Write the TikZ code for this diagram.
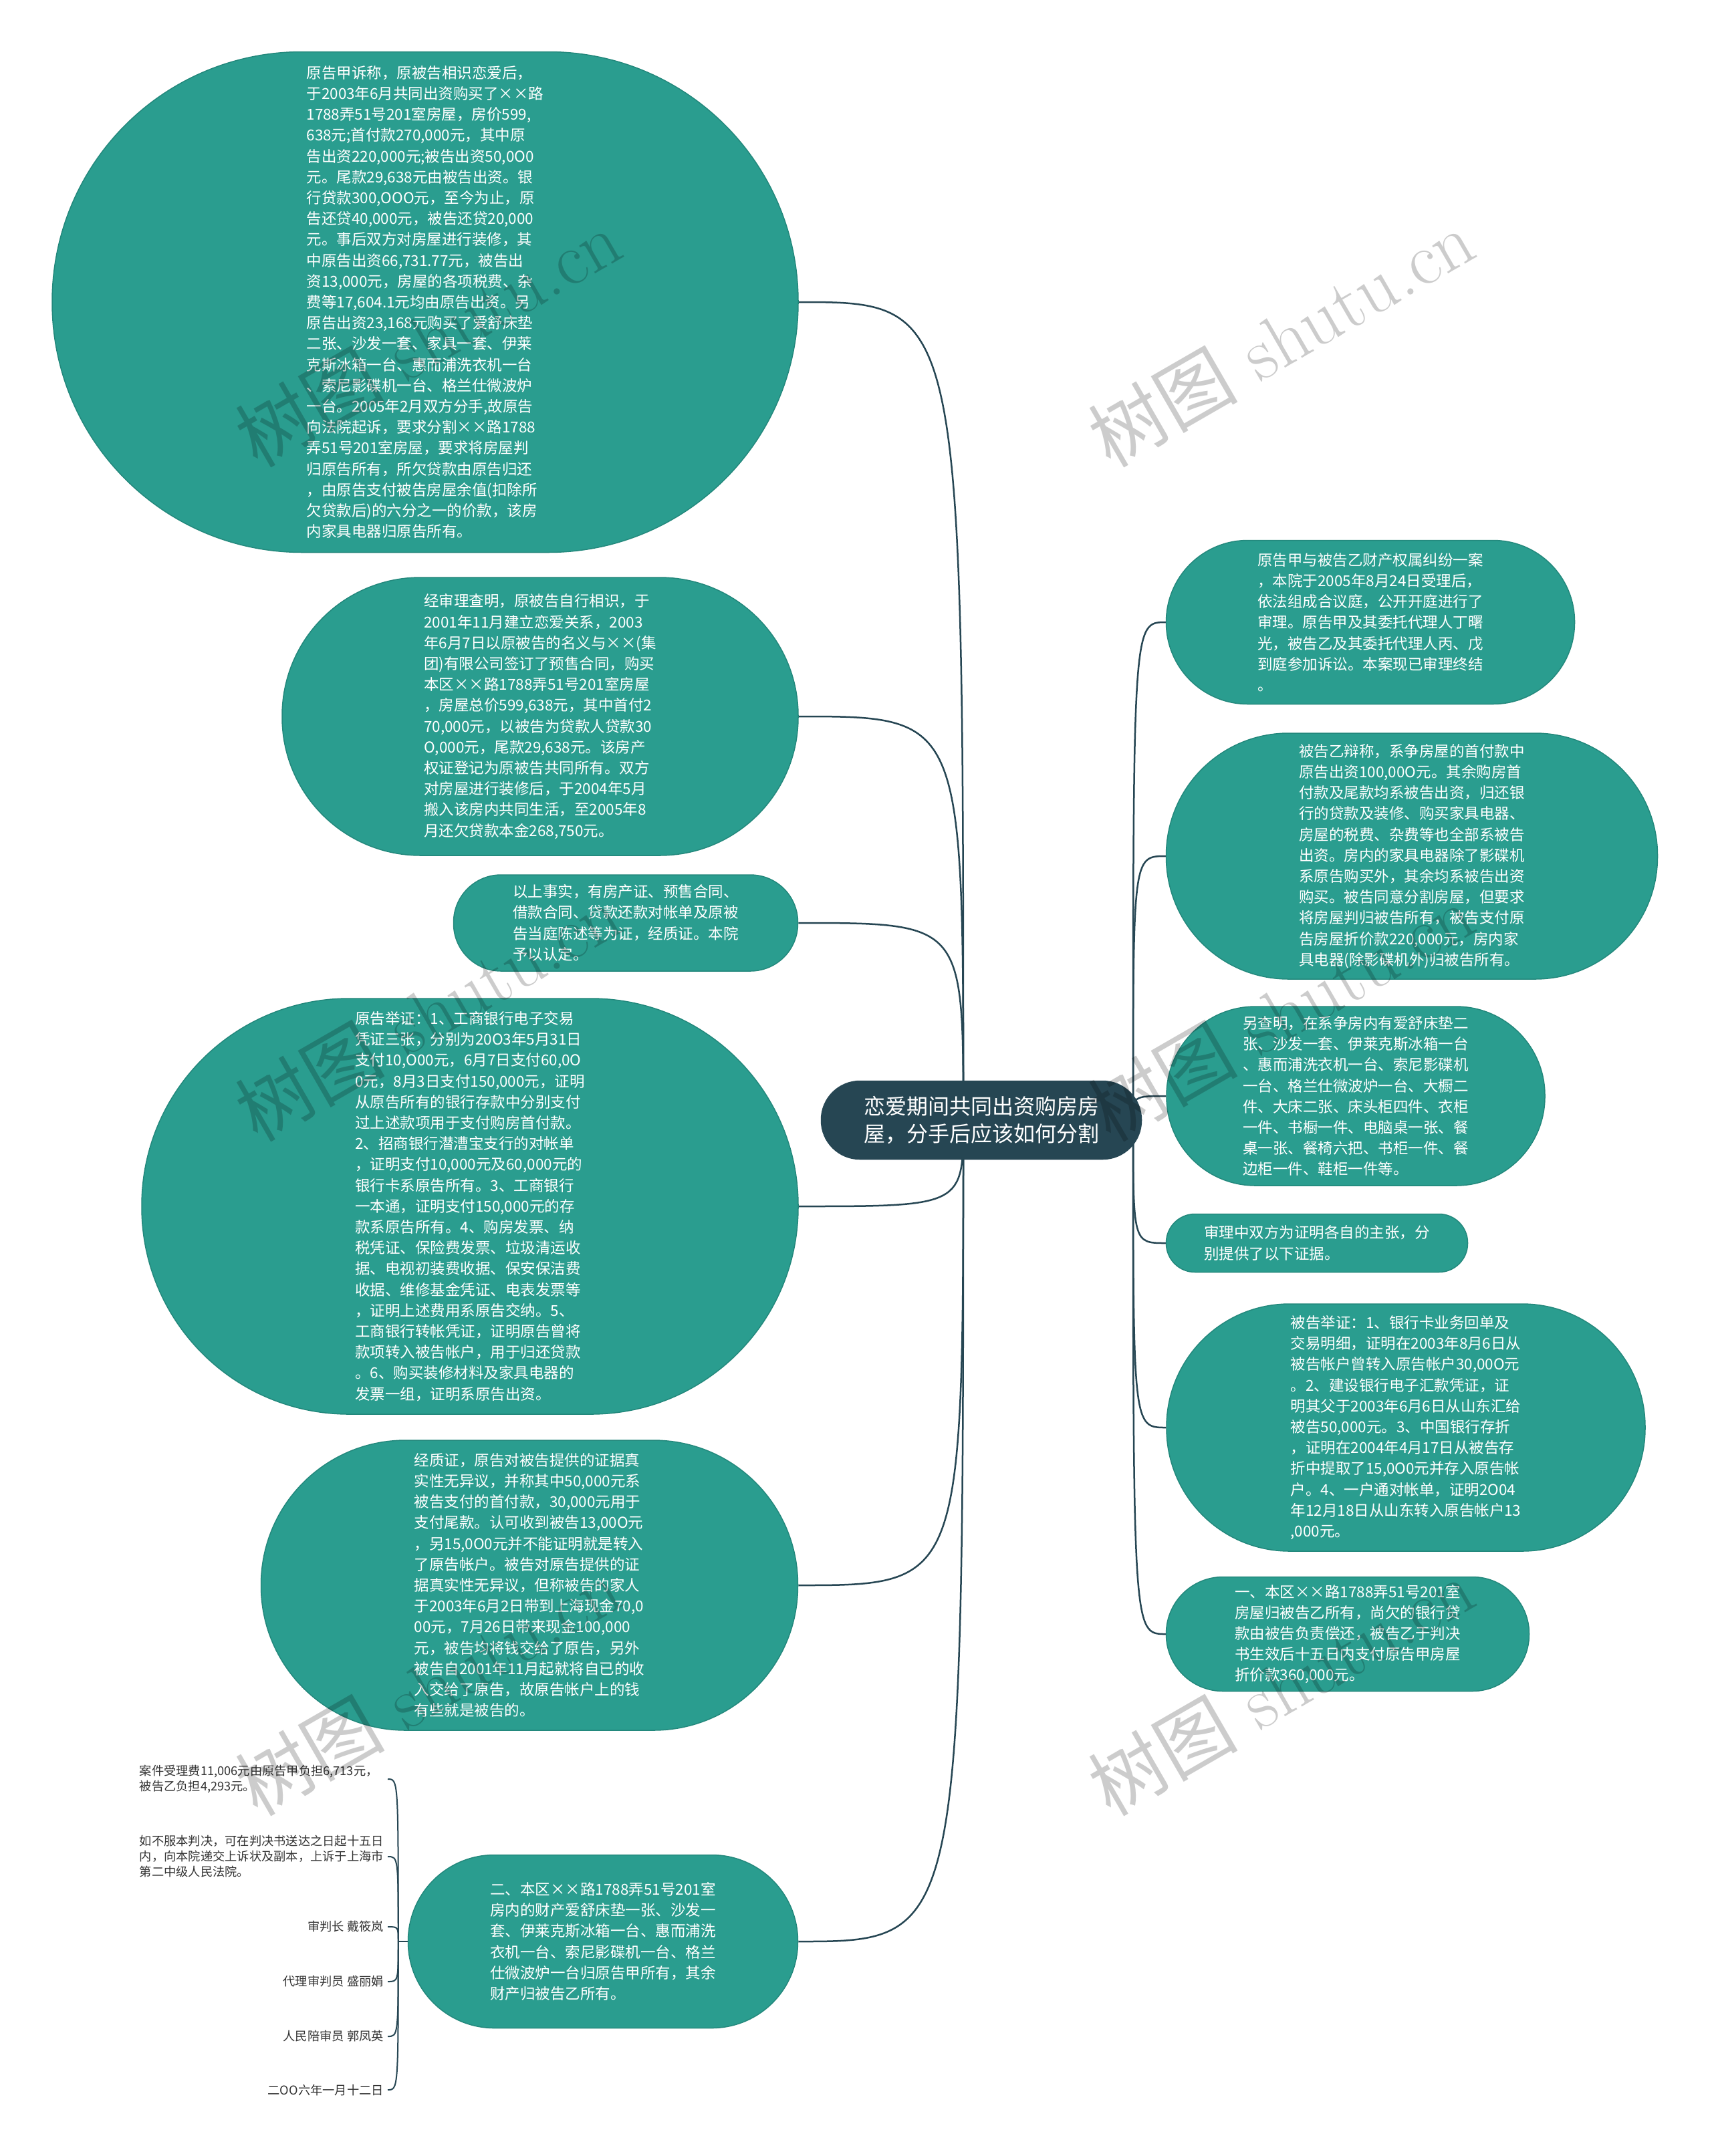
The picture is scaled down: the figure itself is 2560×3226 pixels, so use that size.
\documentclass[tikz,border=0pt]{standalone}
\usepackage{fontspec}
\newfontfamily\cjk{Noto Sans CJK SC}
\usetikzlibrary{backgrounds}
\definecolor{teal1}{HTML}{2A9D8F}
\definecolor{tealdark}{HTML}{23887C}
\definecolor{navy}{HTML}{264653}
\definecolor{leafc}{HTML}{333333}
\begin{document}
\begin{tikzpicture}[x=1pt,y=-1pt,
  box/.style={draw=tealdark, line width=1.5pt, fill=teal1, rectangle, inner sep=0pt},
  txt/.style={align=left, text=white, inner sep=0pt, font=\cjk\fontsize{22.5}{31.2}\selectfont},
  leaf/.style={align=left, text=leafc, inner xsep=6pt, inner ysep=0pt, font=\cjk\fontsize{18.25}{23}\selectfont, anchor=east},
  link/.style={draw=navy, line width=2.5pt},
  wm/.style={text=black, opacity=0.2, rotate=30, font=\fontsize{112}{112}\selectfont}
]
\useasboundingbox (0,0) rectangle (2560,3226);

% shapes
\node[box, minimum width=1116, minimum height=749, rounded corners=374] (A) at (636,452) {};
\node[box, minimum width=772, minimum height=416, rounded corners=207] (B) at (808,1072) {};
\node[box, minimum width=515, minimum height=144, rounded corners=71] (C) at (936,1381) {};
\node[box, minimum width=982, minimum height=622, rounded corners=310] (D) at (703,1805) {};
\node[box, minimum width=803, minimum height=434, rounded corners=216] (E) at (792,2372) {};
\node[box, minimum width=583, minimum height=259, rounded corners=129] (F) at (902,2905) {};
\node[box, draw=navy, fill=navy, minimum width=479, minimum height=117, rounded corners=58] (M) at (1468,1676) {};
\node[box, minimum width=611, minimum height=245, rounded corners=122] (R1) at (2050,931) {};
\node[box, minimum width=735, minimum height=368, rounded corners=183] (R2) at (2112,1281) {};
\node[box, minimum width=566, minimum height=268, rounded corners=133] (R3) at (2028,1640) {};
\node[box, minimum width=451, minimum height=87, rounded corners=43] (R4) at (1970,1860) {};
\node[box, minimum width=716, minimum height=370, rounded corners=184] (R5) at (2103,2136) {};
\node[box, minimum width=543, minimum height=171, rounded corners=85] (R6) at (2016,2445) {};

% texts
\node[txt] (tA) at (A) {原告甲诉称，原被告相识恋爱后，\\于2003年6月共同出资购买了××路\\1788弄51号201室房屋，房价599,\\638元;首付款270,000元，其中原\\告出资220,000元;被告出资50,0O0\\元。尾款29,638元由被告出资。银\\行贷款300,OOO元，至今为止，原\\告还贷40,000元，被告还贷20,000\\元。事后双方对房屋进行装修，其\\中原告出资66,731.77元，被告出\\资13,000元，房屋的各项税费、杂\\费等17,604.1元均由原告出资。另\\原告出资23,168元购买了爱舒床垫\\二张、沙发一套、家具一套、伊莱\\克斯冰箱一台、惠而浦洗衣机一台\\、索尼影碟机一台、格兰仕微波炉\\一台。2005年2月双方分手,故原告\\向法院起诉，要求分割××路1788\\弄51号201室房屋，要求将房屋判\\归原告所有，所欠贷款由原告归还\\，由原告支付被告房屋余值(扣除所\\欠贷款后)的六分之一的价款，该房\\内家具电器归原告所有。};
\node[txt] (tB) at (B) {经审理查明，原被告自行相识，于\\2001年11月建立恋爱关系，2003\\年6月7日以原被告的名义与××(集\\团)有限公司签订了预售合同，购买\\本区××路1788弄51号201室房屋\\，房屋总价599,638元，其中首付2\\70,000元，以被告为贷款人贷款30\\O,000元，尾款29,638元。该房产\\权证登记为原被告共同所有。双方\\对房屋进行装修后，于2004年5月\\搬入该房内共同生活，至2005年8\\月还欠贷款本金268,750元。};
\node[txt] (tC) at (C) {以上事实，有房产证、预售合同、\\借款合同、贷款还款对帐单及原被\\告当庭陈述等为证，经质证。本院\\予以认定。};
\node[txt] (tD) at (D) {原告举证：1、工商银行电子交易\\凭证三张，分别为20O3年5月31日\\支付10,O00元，6月7日支付60,0O\\0元，8月3日支付150,000元，证明\\从原告所有的银行存款中分别支付\\过上述款项用于支付购房首付款。\\2、招商银行潜漕宝支行的对帐单\\，证明支付10,000元及60,000元的\\银行卡系原告所有。3、工商银行\\一本通，证明支付150,000元的存\\款系原告所有。4、购房发票、纳\\税凭证、保险费发票、垃圾清运收\\据、电视初装费收据、保安保洁费\\收据、维修基金凭证、电表发票等\\，证明上述费用系原告交纳。5、\\工商银行转帐凭证，证明原告曾将\\款项转入被告帐户，用于归还贷款\\。6、购买装修材料及家具电器的\\发票一组，证明系原告出资。};
\node[txt] (tE) at (E) {经质证，原告对被告提供的证据真\\实性无异议，并称其中50,000元系\\被告支付的首付款，30,000元用于\\支付尾款。认可收到被告13,00O元\\，另15,0O0元并不能证明就是转入\\了原告帐户。被告对原告提供的证\\据真实性无异议，但称被告的家人\\于2003年6月2日带到上海现金70,0\\00元，7月26日带来现金100,000\\元，被告均将钱交给了原告，另外\\被告自2001年11月起就将自已的收\\入交给了原告，故原告帐户上的钱\\有些就是被告的。};
\node[txt] (tF) at (F) {二、本区××路1788弄51号201室\\房内的财产爱舒床垫一张、沙发一\\套、伊莱克斯冰箱一台、惠而浦洗\\衣机一台、索尼影碟机一台、格兰\\仕微波炉一台归原告甲所有，其余\\财产归被告乙所有。};
\node[txt, align=center, font=\cjk\fontsize{32}{41}\selectfont] (tM) at (M) {恋爱期间共同出资购房房\\屋，分手后应该如何分割};
\node[txt] (tR1) at (R1) {原告甲与被告乙财产权属纠纷一案\\，本院于2005年8月24日受理后，\\依法组成合议庭，公开开庭进行了\\审理。原告甲及其委托代理人丁曙\\光，被告乙及其委托代理人丙、戊\\到庭参加诉讼。本案现已审理终结\\。};
\node[txt] (tR2) at (R2) {被告乙辩称，系争房屋的首付款中\\原告出资100,00O元。其余购房首\\付款及尾款均系被告出资，归还银\\行的贷款及装修、购买家具电器、\\房屋的税费、杂费等也全部系被告\\出资。房内的家具电器除了影碟机\\系原告购买外，其余均系被告出资\\购买。被告同意分割房屋，但要求\\将房屋判归被告所有，被告支付原\\告房屋折价款220,000元，房内家\\具电器(除影碟机外)归被告所有。};
\node[txt] (tR3) at (R3) {另查明，在系争房内有爱舒床垫二\\张、沙发一套、伊莱克斯冰箱一台\\、惠而浦洗衣机一台、索尼影碟机\\一台、格兰仕微波炉一台、大橱二\\件、大床二张、床头柜四件、衣柜\\一件、书橱一件、电脑桌一张、餐\\桌一张、餐椅六把、书柜一件、餐\\边柜一件、鞋柜一件等。};
\node[txt] (tR4) at (R4) {审理中双方为证明各自的主张，分\\别提供了以下证据。};
\node[txt] (tR5) at (R5) {被告举证：1、银行卡业务回单及\\交易明细，证明在2003年8月6日从\\被告帐户曾转入原告帐户30,00O元\\。2、建设银行电子汇款凭证，证\\明其父于2003年6月6日从山东汇给\\被告50,000元。3、中国银行存折\\，证明在2004年4月17日从被告存\\折中提取了15,0O0元并存入原告帐\\户。4、一户通对帐单，证明2O04\\年12月18日从山东转入原告帐户13\\,000元。};
\node[txt] (tR6) at (R6) {一、本区××路1788弄51号201室\\房屋归被告乙所有，尚欠的银行贷\\款由被告负责偿还，被告乙于判决\\书生效后十五日内支付原告甲房屋\\折价款360,000元。};

% leaves
\node[leaf, text width=365pt] (L1) at (580,2662) {案件受理费11,006元由原告甲负担6,713元，\\被告乙负担4,293元。};
\node[leaf, text width=365pt] (L2) at (580,2778) {如不服本判决，可在判决书送达之日起十五日\\内，向本院递交上诉状及副本，上诉于上海市\\第二中级人民法院。};
\node[leaf] (L3) at (580,2883) {审判长 戴筱岚};
\node[leaf] (L4) at (580,2965) {代理审判员 盛丽娟};
\node[leaf] (L5) at (580,3047) {人民陪审员 郭凤英};
\node[leaf] (L6) at (580,3127) {二OO六年一月十二日};

% connectors
\coordinate (PL) at (1441,1676);
\coordinate (PR) at (1695,1676);
\coordinate (J) at ([xshift=-14pt]F.west);
\begin{scope}[on background layer]
  \fill[white] (0,0) rectangle (2560,3226);
  \foreach \n in {A,B,C,D,E,F}
    \draw[link] (PL) .. controls (PL |- \n.east) .. (\n.east);
  \foreach \n in {R1,R2,R3,R4,R5,R6}
    \draw[link] (PR) .. controls (PR |- \n.west) .. (\n.west);
  \draw[link, line width=2pt] (F.west) -- (J);
  \foreach \n in {L1,L2,L3,L4,L5,L6}
    \draw[link, line width=2pt] (J) .. controls (J |- \n.east) .. (\n.east);
\end{scope}

% watermarks
\foreach \wx/\wy [count=\i] in {640/505, 1916/505, 640/1514, 1916/1514, 640/2523, 1916/2523}
  \node[wm] (wm\i) at (\wx,\wy) {{\cjk 树图} shutu.cn};
\end{tikzpicture}
\end{document}
